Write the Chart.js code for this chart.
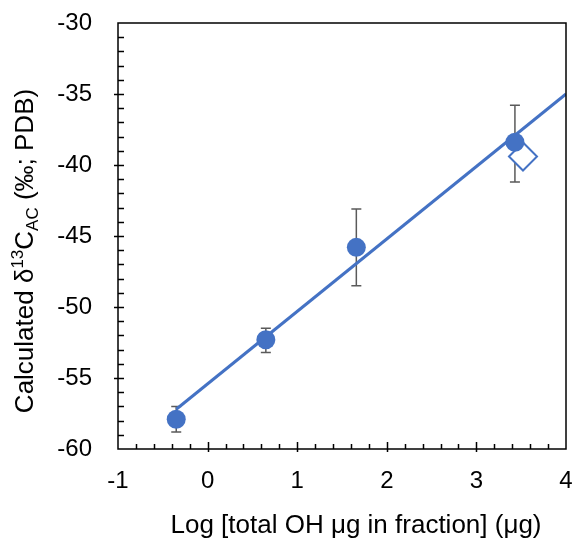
<!DOCTYPE html>
<html><head><meta charset="utf-8">
<script src="https://cdn.jsdelivr.net/npm/chart.js@4"></script>
<style>html,body{margin:0;padding:0;background:#fff}#wrap{width:576px;height:539px}</style>
</head><body><div id="wrap"><canvas id="c"></canvas></div>
<script>
const xTickLabels = [-1, 0, 1, 2, 3, 4];
const yTickLabels = [-60, -55, -50, -45, -40, -35, -30];
const xVals = [-0.35, 0.65, 1.66, 3.43];
const yVals = [-57.9, -52.3, -45.8, -38.4];
const errHigh = [-57.0, -51.5, -43.1, -35.8];
const errLow = [-58.8, -53.2, -48.5, -41.2];
const openX = [3.52];
const openY = [-39.4];
const fitX = [-0.35, 4.0];
const fitY = [-57.2, -35.0];

const BLUE = '#4472C4';
const FONT = '"Liberation Sans", Arial, Helvetica, sans-serif';

const framePlugin = {
  id: 'frame',
  beforeDatasetsDraw(chart) {
    const ctx = chart.ctx, xs = chart.scales.x, ys = chart.scales.y;
    ctx.save();
    ctx.strokeStyle = '#5a5a5a';
    ctx.lineWidth = 1.5;
    for (let i = 0; i < xVals.length; i++) {
      const px = xs.getPixelForValue(xVals[i]);
      const pt = ys.getPixelForValue(errHigh[i]);
      const pb = ys.getPixelForValue(errLow[i]);
      ctx.beginPath();
      ctx.moveTo(px, pt); ctx.lineTo(px, pb);
      ctx.moveTo(px - 5, pt); ctx.lineTo(px + 5, pt);
      ctx.moveTo(px - 5, pb); ctx.lineTo(px + 5, pb);
      ctx.stroke();
    }
    ctx.restore();
  },
  afterDraw(chart) {
    const ctx = chart.ctx, a = chart.chartArea, xs = chart.scales.x, ys = chart.scales.y;
    ctx.save();
    ctx.strokeStyle = '#000';
    ctx.lineWidth = 1.5;
    ctx.strokeRect(a.left, a.top, a.right - a.left, a.bottom - a.top);
    ctx.beginPath();
    for (let i = 1; i < 25; i++) {
      const v = -1 + i * 0.2;
      const px = Math.round(xs.getPixelForValue(v)) + 0.5;
      const major = i % 5 === 0;
      ctx.moveTo(px, a.bottom + (major ? 3 : 0));
      ctx.lineTo(px, a.bottom - (major ? 7 : 5));
    }
    for (let i = 1; i < 30; i++) {
      const v = -60 + i;
      const py = Math.round(ys.getPixelForValue(v)) + 0.5;
      const major = i % 5 === 0;
      ctx.moveTo(a.left - (major ? 4 : 0), py);
      ctx.lineTo(a.left + 6, py);
    }
    ctx.stroke();

    // x title
    ctx.fillStyle = '#000';
    ctx.font = '26px ' + FONT;
    ctx.textAlign = 'center';
    ctx.textBaseline = 'alphabetic';
    ctx.fillText('Log [total OH \u03bcg in fraction] (\u03bcg)', 356, 533);

    // y title with super/subscripts
    const parts = [
      {t: 'Calculated \u03b4', s: 26, dy: 0},
      {t: '13', s: 17, dy: -10},
      {t: 'C', s: 26, dy: 0},
      {t: 'AC', s: 17, dy: 5},
      {t: ' (\u2030; PDB)', s: 26, dy: 0}
    ];
    let total = 0;
    parts.forEach(p => { ctx.font = p.s + 'px ' + FONT; p.w = ctx.measureText(p.t).width; total += p.w; });
    ctx.translate(33, 251);
    ctx.rotate(-Math.PI / 2);
    ctx.textAlign = 'left';
    let x = -total / 2;
    parts.forEach(p => { ctx.font = p.s + 'px ' + FONT; ctx.fillText(p.t, x, p.dy); x += p.w; });
    ctx.restore();
  }
};

new Chart(document.getElementById('c'), {
  type: 'scatter',
  data: {
    datasets: [
      {
        label: 'fit',
        data: fitX.map((x, i) => ({x, y: fitY[i]})),
        showLine: true, borderColor: BLUE, borderWidth: 3, pointRadius: 0, fill: false, order: 3
      },
      {
        label: 'open',
        data: openX.map((x, i) => ({x, y: openY[i]})),
        pointStyle: 'rectRot', pointRadius: 14, borderColor: BLUE, borderWidth: 2,
        backgroundColor: '#fff', order: 2
      },
      {
        label: 'measured',
        data: xVals.map((x, i) => ({x, y: yVals[i]})),
        pointStyle: 'circle', pointRadius: 9.5, borderWidth: 0,
        backgroundColor: BLUE, borderColor: BLUE, order: 1
      }
    ]
  },
  options: {
    responsive: true, maintainAspectRatio: false, animation: false,
    layout: {autoPadding: false, padding: {left: 0, right: 10, top: 23, bottom: 0}},
    plugins: {legend: {display: false}, tooltip: {enabled: false}},
    scales: {
      x: {
        type: 'linear', min: -1, max: 4,
        grid: {display: false}, border: {display: false},
        afterBuildTicks: s => { s.ticks = xTickLabels.map(v => ({value: v})); },
        ticks: {color: '#000', font: {size: 24, family: FONT}, padding: 10, maxRotation: 0},
        afterFit: s => { s.height = 90; s.paddingLeft = 0; s.paddingRight = 0; }
      },
      y: {
        type: 'linear', min: -60, max: -30,
        grid: {display: false}, border: {display: false},
        afterBuildTicks: s => { s.ticks = yTickLabels.map(v => ({value: v})); },
        ticks: {color: '#000', font: {size: 24, family: FONT}, padding: 18},
        afterFit: s => { s.width = 118; s.paddingTop = 0; s.paddingBottom = 0; }
      }
    }
  },
  plugins: [framePlugin]
});
</script></body></html>
